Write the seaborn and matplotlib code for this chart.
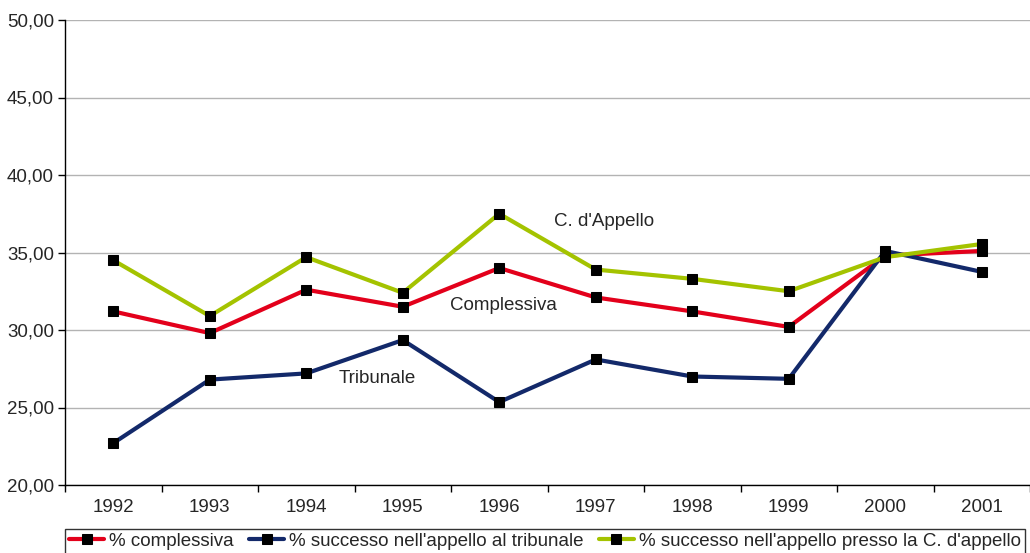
import seaborn as sns
import matplotlib.pyplot as plt
import matplotlib.ticker as mticker
import pandas as pd


# Data
anni = ["1992", "1993", "1994", "1995", "1996", "1997", "1998", "1999", "2000", "2001"]
complessiva = [31.2, 29.8, 32.6, 31.5, 34.0, 32.1, 31.2, 30.2, 34.8, 35.1]
tribunale = [22.7, 26.8, 27.2, 29.35, 25.35, 28.1, 27.0, 26.85, 35.1, 33.75]
corte_appello = [34.5, 30.9, 34.7, 32.4, 37.5, 33.9, 33.3, 32.5, 34.7, 35.55]

nomi = ["% complessiva", "% successo nell'appello al tribunale",
        "% successo nell'appello presso la C. d'appello"]
colori = ["#E3001B", "#13296A", "#A4C300"]

df = pd.DataFrame({
    "x": list(range(len(anni))) * 3,
    "valore": complessiva + tribunale + corte_appello,
    "serie": [nomi[0]] * 10 + [nomi[1]] * 10 + [nomi[2]] * 10,
})

sns.set_style("white")
plt.rcParams['font.family'] = ['Liberation Sans', 'DejaVu Sans']

fig = plt.figure(figsize=(10.30, 5.53), dpi=100)
ax = fig.add_axes([65 / 1030, 1 - 485 / 553, 965 / 1030, 465 / 553])

for nome, col in zip(nomi, colori):
    sns.lineplot(data=df[df["serie"] == nome], x="x", y="valore", ax=ax,
                 color=col, linewidth=3, marker="s", markersize=7.5,
                 markerfacecolor="black", markeredgecolor="black", label=nome)

ax.set_xlim(-0.5, 9.5)
ax.set_ylim(20, 50)
ax.set_yticks(range(20, 51, 5))
ax.yaxis.set_major_formatter(mticker.FuncFormatter(lambda v, p: f"{v:.2f}".replace(".", ",")))
ax.set_xticks(range(len(anni)))
ax.set_xticklabels(anni)
ax.set_xticks([i - 0.5 for i in range(len(anni) + 1)], minor=True)
ax.tick_params(axis="x", which="major", length=0, pad=10, labelsize=13.5)
ax.tick_params(axis="x", which="minor", length=5, width=1, color="black", direction="out", bottom=True)
ax.tick_params(axis="y", length=5, width=1, color="black", direction="out", left=True, labelsize=13.5, pad=3)
ax.set_xlabel("")
ax.set_ylabel("")

ax.grid(axis="y", color="#b3b3b3", linewidth=1)
ax.set_axisbelow(True)
for s in ["top", "right"]:
    ax.spines[s].set_visible(False)
for s in ["left", "bottom"]:
    ax.spines[s].set_color("black")
    ax.spines[s].set_linewidth(1)

# labels on the lines
ax.text(5.09, 36.97, "C. d'Appello", ha="center", va="center", fontsize=13.5)
ax.text(4.04, 31.6, "Complessiva", ha="center", va="center", fontsize=13.5)
ax.text(2.74, 26.9, "Tribunale", ha="center", va="center", fontsize=13.5)

ax.get_legend().remove()
h, l = ax.get_legend_handles_labels()
leg = fig.legend(h, l, loc="upper left", bbox_to_anchor=(65 / 1030, 1 - 529 / 553),
                 ncol=3, fontsize=13.5, frameon=True, fancybox=False, borderpad=0.2,
                 handlelength=1.9, handletextpad=0.25, columnspacing=0.8,
                 borderaxespad=0)
leg.get_frame().set_edgecolor("black")
leg.get_frame().set_linewidth(1)

plt.savefig("out.png", dpi=100)
